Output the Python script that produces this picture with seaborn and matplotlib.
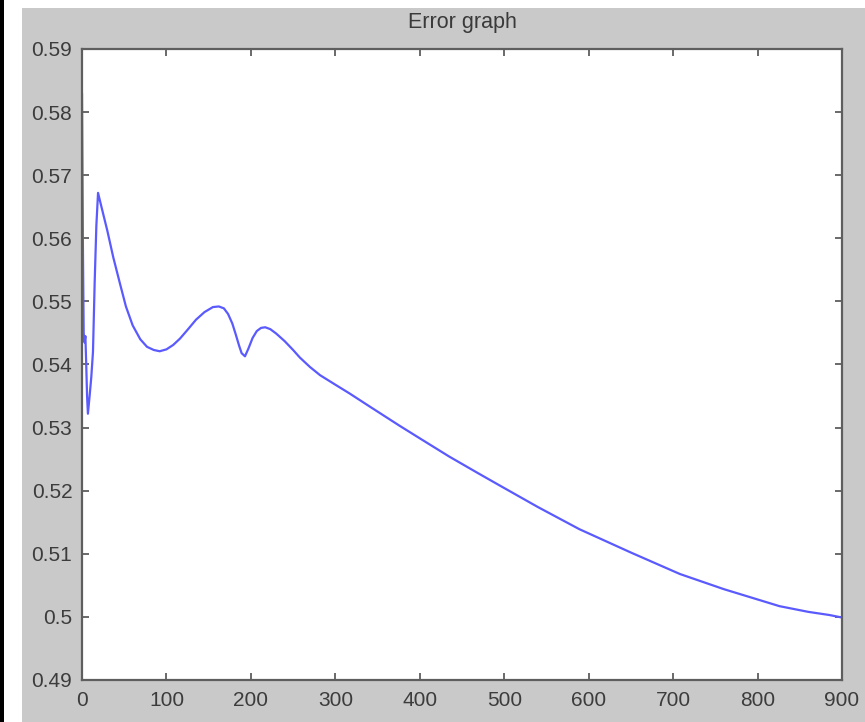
import matplotlib
matplotlib.use('Agg')
import matplotlib.pyplot as plt
import seaborn as sns
import numpy as np
import pandas as pd

# Valores (iteração x erro)
iteracao = [0, 1, 2, 3, 4, 5, 6, 7, 9, 11, 13, 15, 17, 19, 23, 30, 37, 45, 52,
            60, 69, 77, 85, 92, 100, 108, 116, 125, 135, 145, 155, 162, 168,
            173, 178, 182, 186, 189, 193, 197, 202, 207, 212, 217, 223, 230,
            240, 250, 258, 270, 282, 300, 317, 340, 376, 400, 435, 470, 495,
            540, 589, 650, 708, 760, 826, 860, 885, 900]
erro = [0.5830, 0.5600, 0.5450, 0.5435, 0.5445, 0.5400, 0.5350, 0.5322, 0.5350,
        0.5380, 0.5420, 0.5530, 0.5620, 0.5672, 0.5650, 0.5612, 0.5570, 0.5528,
        0.5492, 0.5462, 0.5440, 0.5428, 0.5423, 0.5421, 0.5424, 0.5431, 0.5441,
        0.5455, 0.5471, 0.5483, 0.5491, 0.5492, 0.5489, 0.5480, 0.5465, 0.5448,
        0.5430, 0.5418, 0.5413, 0.5425, 0.5442, 0.5453, 0.5458, 0.5459, 0.5456,
        0.5449, 0.5437, 0.5423, 0.5411, 0.5396, 0.5383, 0.5368, 0.5354, 0.5334,
        0.5303, 0.5283, 0.5254, 0.5227, 0.5208, 0.5174, 0.5139, 0.5102, 0.5068,
        0.5044, 0.5017, 0.5008, 0.5003, 0.4999]

# Ticks e rótulos
xticks = [0, 100, 200, 300, 400, 500, 600, 700, 800, 900]
yticks = [0.49, 0.50, 0.51, 0.52, 0.53, 0.54, 0.55, 0.56, 0.57, 0.58, 0.59]
ylabels = ['0.49', '0.5', '0.51', '0.52', '0.53', '0.54', '0.55', '0.56',
           '0.57', '0.58', '0.59']

dt = pd.DataFrame({'Iteracao': iteracao, 'Erro': erro})

sns.set_style('ticks')
plt.rcParams['font.family'] = ['Liberation Sans', 'DejaVu Sans']

cinza = '#c9c9c9'
fig = plt.figure(figsize=(8.65, 7.22), dpi=100, facecolor=cinza)

# Bordas da captura de tela (faixa branca e preta)
fig.patches.append(plt.Rectangle((0, 0), 22 / 865, 1, transform=fig.transFigure,
                                 facecolor='white', edgecolor='none', zorder=0))
fig.patches.append(plt.Rectangle((0, 1 - 8 / 722), 1, 8 / 722, transform=fig.transFigure,
                                 facecolor='white', edgecolor='none', zorder=0))
fig.patches.append(plt.Rectangle((0, 0), 4 / 865, 1, transform=fig.transFigure,
                                 facecolor='black', edgecolor='none', zorder=1))

ax = fig.add_axes([82 / 865, 42 / 722, 760 / 865, 631 / 722])
ax.set_facecolor('white')

sns.lineplot(data=dt, x='Iteracao', y='Erro', sort=False, estimator=None,
             color='#5a5aff', linewidth=1.6, ax=ax)

# Formatação estilo MATLAB
ax.set_xlim(0, 900)
ax.set_ylim(0.49, 0.59)
ax.set_xticks(xticks)
ax.set_xticklabels([str(t) for t in xticks])
ax.set_yticks(yticks)
ax.set_yticklabels(ylabels)
ax.set_xlabel('')
ax.set_ylabel('')
ax.tick_params(direction='in', length=5, width=1.2, color='#505050',
               top=True, right=True, labelsize=15, labelcolor='#3c3c3c')
ax.tick_params(axis='y', pad=7)
ax.tick_params(axis='x', pad=8)
for s in ax.spines.values():
    s.set_color('#5e5e5e')
    s.set_linewidth(1.6)
ax.set_title('Error graph', fontsize=15.5, color='#3a3a3a', pad=15)

plt.savefig('out.png', dpi=100, facecolor=cinza)
plt.close()
